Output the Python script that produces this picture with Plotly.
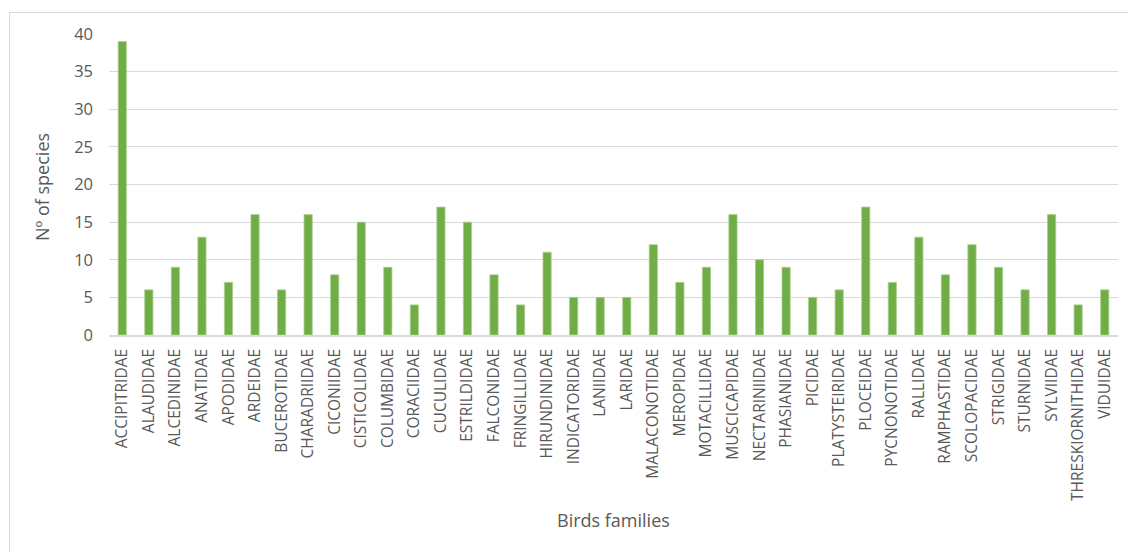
import plotly.graph_objects as go

families = [
    "ACCIPITRIDAE", "ALAUDIDAE", "ALCEDINIDAE", "ANATIDAE", "APODIDAE",
    "ARDEIDAE", "BUCEROTIDAE", "CHARADRIIDAE", "CICONIIDAE", "CISTICOLIDAE",
    "COLUMBIDAE", "CORACIIDAE", "CUCULIDAE", "ESTRILDIDAE", "FALCONIDAE",
    "FRINGILLIDAE", "HIRUNDINIDAE", "INDICATORIDAE", "LANIIDAE", "LARIDAE",
    "MALACONOTIDAE", "MEROPIDAE", "MOTACILLIDAE", "MUSCICAPIDAE", "NECTARINIIDAE",
    "PHASIANIDAE", "PICIDAE", "PLATYSTEIRIDAE", "PLOCEIDAE", "PYCNONOTIDAE",
    "RALLIDAE", "RAMPHASTIDAE", "SCOLOPACIDAE", "STRIGIDAE", "STURNIDAE",
    "SYLVIIDAE", "THRESKIORNITHIDAE", "VIDUIDAE",
]
species_count = [
    39, 6, 9, 13, 7,
    16, 6, 16, 8, 15,
    9, 4, 17, 15, 8,
    4, 11, 5, 5, 5,
    12, 7, 9, 16, 10,
    9, 5, 6, 17, 7,
    13, 8, 12, 9, 6,
    16, 4, 6,
]
y_ticks = [0, 5, 10, 15, 20, 25, 30, 35, 40]

W, H = 1128, 552
L, R, T, B = 109, 10, 34, 217
plot_w = W - L - R
plot_h = H - T - B

def px_x(px):
    return (px - L) / plot_w

def px_y(py):
    return (H - B - py) / plot_h

text_color = "#595959"
font_family = "Open Sans, Liberation Sans, sans-serif"

fig = go.Figure(
    go.Bar(
        x=families,
        y=species_count,
        marker=dict(color="#70ad47", line=dict(color="#a9d18e", width=0.8)),
    )
)

fig.update_layout(
    width=W,
    height=H,
    margin=dict(l=L, r=R, t=T, b=B, autoexpand=False),
    paper_bgcolor="white",
    plot_bgcolor="white",
    bargap=0.69,
    showlegend=False,
    font=dict(family=font_family, color=text_color),
)

fig.update_xaxes(
    tickangle=-90,
    tickfont=dict(size=15.5, color=text_color),
    showgrid=False,
    showline=True,
    linecolor="#d9d9d9",
    linewidth=1.5,
    ticks="",
    ticklabelstandoff=6,
    automargin=False,
)

fig.update_yaxes(
    range=[0, 40],
    tickvals=y_ticks,
    tickfont=dict(size=16.5, color=text_color),
    showgrid=True,
    gridcolor="#d9d9d9",
    gridwidth=1,
    zeroline=False,
    showline=False,
    ticks="",
    ticklabelstandoff=15,
    automargin=False,
)

# axis titles
fig.add_annotation(
    text="Birds families", xref="paper", yref="paper",
    x=px_x(613), y=px_y(520), showarrow=False,
    font=dict(size=18, color=text_color), xanchor="center", yanchor="middle",
)
fig.add_annotation(
    text="Nº of species", xref="paper", yref="paper",
    x=px_x(42), y=px_y(187), showarrow=False, textangle=-90,
    font=dict(size=18, color=text_color), xanchor="center", yanchor="middle",
)

# chart frame
fig.add_shape(
    type="rect", xref="paper", yref="paper",
    x0=px_x(9.5), x1=px_x(1140), y0=px_y(570), y1=px_y(12.5),
    line=dict(color="#d9d9d9", width=1), fillcolor="rgba(0,0,0,0)",
    layer="below",
)

fig.write_html("out.html")
